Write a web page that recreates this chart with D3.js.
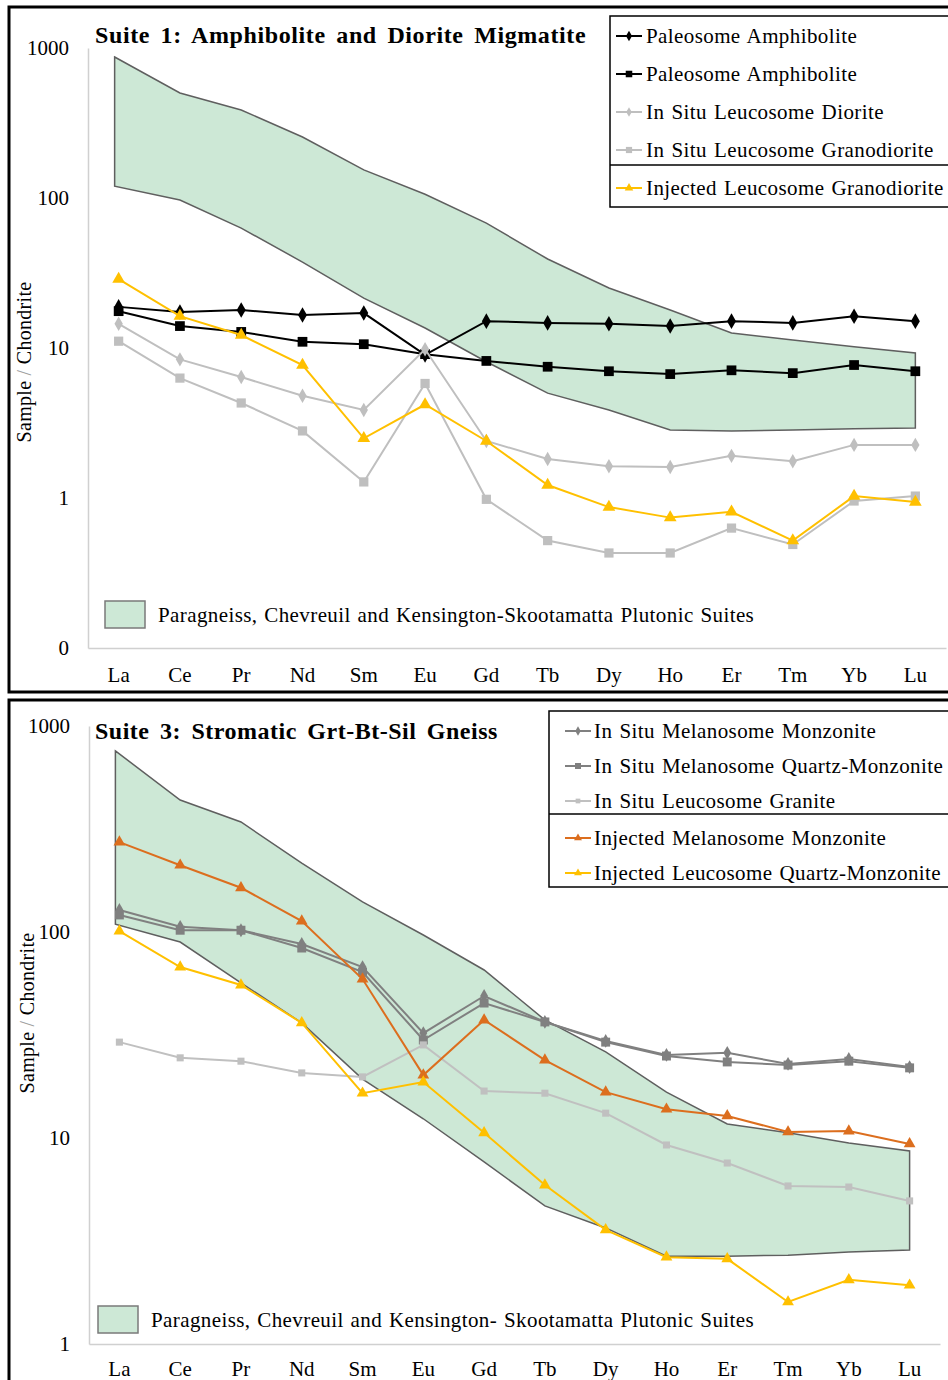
<!DOCTYPE html>
<html>
<head>
<meta charset="utf-8">
<script src="https://cdn.jsdelivr.net/npm/d3@7"></script>
<style>
  body { margin: 0; background: #fff; }
  svg text { font-family: "Liberation Serif", "Times New Roman", serif; fill: #000; }
</style>
</head>
<body>
<svg id="chart" width="948" height="1380"></svg>
<script>
// Rare earth elements on the x axis
const elements = ['La', 'Ce', 'Pr', 'Nd', 'Sm', 'Eu', 'Gd', 'Tb', 'Dy', 'Ho', 'Er', 'Tm', 'Yb', 'Lu'];

// Suite 1 samples (chondrite-normalised)
const paleosomeAmphiboliteA = [18.8, 17.4, 17.9, 16.6, 17.1, 9.0, 15.1, 14.7, 14.5, 14.0, 15.1, 14.7, 16.3, 15.1];
const paleosomeAmphiboliteB = [17.6, 14.0, 12.8, 11.0, 10.6, 9.1, 8.2, 7.5, 7.0, 6.7, 7.1, 6.8, 7.7, 7.0];
const inSituLeucosomeDiorite = [14.5, 8.4, 6.4, 4.8, 3.86, 9.8, 2.4, 1.82, 1.63, 1.61, 1.91, 1.76, 2.26, 2.26];
const inSituLeucosomeGranodiorite = [11.1, 6.3, 4.3, 2.8, 1.28, 5.8, 0.98, 0.52, 0.43, 0.43, 0.63, 0.49, 0.955, 1.03];
const injectedLeucosomeGranodiorite = [28.8, 16.3, 12.2, 7.7, 2.5, 4.2, 2.4, 1.22, 0.87, 0.74, 0.81, 0.52, 1.03, 0.94];
const suite1EnvelopeUpper = [871, 501, 386, 255, 154, 106, 68, 39.2, 25.1, 17.9, 12.6, 11.3, 10.2, 9.26];
const suite1EnvelopeLower = [120, 97, 63, 37.4, 21.5, 13.6, 8.1, 5.0, 3.86, 2.84, 2.8, 2.84, 2.9, 2.93];
const suite1Ticks = [1000, 100, 10, 1, 0.1];
const suite1TickLabels = ['1000', '100', '10', '1', '0'];

// Suite 3 samples
const inSituMelanosomeMonzonite = [128, 106, 102, 87.5, 67.6, 32.3, 48.9, 36.6, 29.6, 25.3, 25.9, 22.9, 24.2, 22.1];
const inSituMelanosomeQtzMonzonite = [121, 102, 102, 83.6, 63.9, 29.9, 45.2, 36.6, 29.2, 25.0, 23.4, 22.6, 23.6, 21.9];
const inSituLeucosomeGranite = [29.2, 24.5, 23.6, 20.7, 19.8, 28.3, 16.9, 16.5, 13.2, 9.25, 7.56, 5.85, 5.78, 4.95];
const injectedMelanosomeMonzonite = [273, 211, 164, 113, 59.1, 20.2, 37.4, 23.9, 16.7, 13.8, 12.8, 10.7, 10.8, 9.36];
const injectedLeucosomeQtzMonzonite = [101, 67.6, 55.3, 36.2, 16.5, 18.7, 10.6, 5.91, 3.58, 2.64, 2.59, 1.6, 2.05, 1.93];
const suite3EnvelopeUpper = [757, 437, 342, 216, 140, 96.7, 65.4, 37.4, 26.2, 16.7, 11.7, 10.6, 9.46, 8.65];
const suite3EnvelopeLower = [109, 89.4, 56.6, 36.2, 19.3, 12.4, 7.65, 4.68, 3.66, 2.67, 2.67, 2.7, 2.8, 2.86];
const suite3Ticks = [1000, 100, 10, 1];
const suite3TickLabels = ['1000', '100', '10', '1'];

const envelopeLabel1 = 'Paragneiss, Chevreuil and Kensington-Skootamatta Plutonic Suites';
const envelopeLabel3 = 'Paragneiss, Chevreuil and Kensington- Skootamatta Plutonic Suites';

const svg = d3.select('#chart');

const symbols = { diamond: d3.symbolDiamond, square: d3.symbolSquare, triangle: d3.symbolTriangle };

function drawPanel(cfg) {
  const g = svg.append('g');

  // panel frame
  g.append('rect')
    .attr('x', cfg.frame[0]).attr('y', cfg.frame[1])
    .attr('width', cfg.frame[2]).attr('height', cfg.frame[3])
    .attr('fill', 'none').attr('stroke', '#000').attr('stroke-width', 3);

  const x = d3.scaleBand().domain(elements).range([cfg.left, cfg.right]);
  const y = d3.scaleLog().domain(cfg.yDomain).range([cfg.bottom, cfg.top]);
  const cx = d => x(d) + x.bandwidth() / 2;

  // envelope (outer vertices pulled a little inside the first band, as in the original drawing)
  const env = elements.map((e, i) => ({ e, hi: cfg.envUpper[i], lo: cfg.envLower[i] }));
  const ex = (d, i) => cx(d.e) - (i === 0 ? 4 : 0);
  const area = d3.area().x(ex).y0(d => y(d.lo)).y1(d => y(d.hi));
  g.append('path')
    .datum(env)
    .attr('d', d => area(d) + 'Z')
    .attr('fill', '#cde8d6')
    .attr('stroke', '#5f5f5f')
    .attr('stroke-width', 1.5);

  // axes
  const yAxis = d3.axisLeft(y)
    .tickValues(cfg.ticks)
    .tickFormat((d, i) => cfg.tickLabels[i])
    .tickSize(0).tickPadding(19);
  const ya = g.append('g').attr('transform', `translate(${cfg.left},0)`).call(yAxis);
  ya.select('.domain').attr('stroke', '#d0d0d0').attr('stroke-width', 1.5);
  ya.selectAll('text').attr('font-size', 21).attr('font-family', 'Liberation Serif');

  const xAxis = d3.axisBottom(x).tickSize(0).tickPadding(cfg.xPad).tickSizeOuter(0);
  const xa = g.append('g').attr('transform', `translate(0,${cfg.bottom})`).call(xAxis);
  xa.select('.domain').attr('stroke', '#d0d0d0').attr('stroke-width', 1.5);
  xa.selectAll('text').attr('font-size', 21).attr('font-family', 'Liberation Serif');

  // y title
  const yt = g.append('text')
    .attr('transform', `translate(${cfg.yTitleX},${cfg.yTitleY}) rotate(-90)`)
    .attr('text-anchor', 'middle')
    .attr('font-size', 20)
    .attr('letter-spacing', 0.3);
  yt.append('tspan').text('Sample ');
  yt.append('tspan').style('fill', '#a0a0a0').text('/');
  yt.append('tspan').text(' Chondrite');

  // series
  const line = d3.line().x((d, i) => cx(elements[i])).y(d => y(d));
  cfg.series.forEach(s => {
    g.append('path')
      .datum(s.values)
      .attr('d', line)
      .attr('fill', 'none')
      .attr('stroke', s.color)
      .attr('stroke-width', s.width || 2);
    g.selectAll(null)
      .data(s.values)
      .enter()
      .append('path')
      .attr('transform', (d, i) => `translate(${cx(elements[i])},${y(d)})`)
      .attr('d', d3.symbol().type(symbols[s.shape]).size(s.size))
      .attr('fill', s.color);
  });

  // title
  g.append('text')
    .attr('x', 95).attr('y', cfg.titleY)
    .attr('font-size', 24).attr('font-weight', 'bold')
    .attr('letter-spacing', cfg.titleSpacing).attr('word-spacing', 4)
    .text(cfg.title);

  // legend box
  const lg = cfg.legend;
  g.append('rect')
    .attr('x', lg.x).attr('y', lg.y).attr('width', 420).attr('height', lg.h)
    .attr('fill', '#fff').attr('stroke', '#000').attr('stroke-width', 1.5);
  g.append('line')
    .attr('x1', lg.x).attr('x2', 948).attr('y1', lg.sep).attr('y2', lg.sep)
    .attr('stroke', '#000').attr('stroke-width', 1.5);
  cfg.series.forEach((s, i) => {
    const ly = lg.rows[i];
    g.append('line')
      .attr('x1', lg.lineX).attr('x2', lg.lineX + 26).attr('y1', ly).attr('y2', ly)
      .attr('stroke', s.color).attr('stroke-width', 2);
    g.append('path')
      .attr('transform', `translate(${lg.lineX + 13},${ly})`)
      .attr('d', d3.symbol().type(symbols[s.shape]).size(s.size * 0.45))
      .attr('fill', s.color);
    g.append('text')
      .attr('x', lg.textX).attr('y', ly).attr('dy', '0.35em')
      .attr('font-size', 21)
      .attr('letter-spacing', 0.4).attr('word-spacing', 1.5)
      .text(s.name);
  });

  // envelope legend
  g.append('rect')
    .attr('x', cfg.envKey[0]).attr('y', cfg.envKey[1]).attr('width', 40).attr('height', 27)
    .attr('fill', '#cde8d6').attr('stroke', '#7a7a7a').attr('stroke-width', 1.5);
  g.append('text')
    .attr('x', cfg.envKey[0] + 53).attr('y', cfg.envKey[1] + 14).attr('dy', '0.35em')
    .attr('font-size', 21)
    .attr('letter-spacing', 0.4).attr('word-spacing', 1.2)
    .text(cfg.envLabel);
}

drawPanel({
  frame: [9, 7, 960, 685],
  left: 88, right: 946, top: 48, bottom: 648,
  yDomain: [0.1, 1000], ticks: suite1Ticks, tickLabels: suite1TickLabels,
  xPad: 19,
  yTitleX: 31, yTitleY: 362,
  title: 'Suite 1: Amphibolite and Diorite Migmatite', titleY: 43, titleSpacing: 0.6,
  envUpper: suite1EnvelopeUpper, envLower: suite1EnvelopeLower,
  envKey: [105, 601], envLabel: envelopeLabel1,
  legend: { x: 610, y: 16, h: 191, sep: 165, lineX: 616, textX: 646, rows: [36, 74, 112, 150, 188] },
  series: [
    { name: 'Paleosome Amphibolite', values: paleosomeAmphiboliteA, color: '#000', shape: 'diamond', size: 70 },
    { name: 'Paleosome Amphibolite', values: paleosomeAmphiboliteB, color: '#000', shape: 'square', size: 95 },
    { name: 'In Situ Leucosome Diorite', values: inSituLeucosomeDiorite, color: '#bfbfbf', shape: 'diamond', size: 60 },
    { name: 'In Situ Leucosome Granodiorite', values: inSituLeucosomeGranodiorite, color: '#bfbfbf', shape: 'square', size: 85 },
    { name: 'Injected Leucosome Granodiorite', values: injectedLeucosomeGranodiorite, color: '#ffc000', shape: 'triangle', size: 70 }
  ]
});

drawPanel({
  frame: [9, 700, 960, 700],
  left: 89, right: 940, top: 726, bottom: 1344,
  yDomain: [1, 1000], ticks: suite3Ticks, tickLabels: suite3TickLabels,
  xPad: 17,
  yTitleX: 34, yTitleY: 1013,
  title: 'Suite 3: Stromatic Grt-Bt-Sil Gneiss', titleY: 739, titleSpacing: 0.5,
  envUpper: suite3EnvelopeUpper, envLower: suite3EnvelopeLower,
  envKey: [98, 1306], envLabel: envelopeLabel3,
  legend: { x: 549, y: 711, h: 176, sep: 814, lineX: 565, textX: 594, rows: [731, 766, 801, 838, 873] },
  series: [
    { name: 'In Situ Melanosome Monzonite', values: inSituMelanosomeMonzonite, color: '#808080', shape: 'diamond', size: 55 },
    { name: 'In Situ Melanosome Quartz-Monzonite', values: inSituMelanosomeQtzMonzonite, color: '#808080', shape: 'square', size: 80 },
    { name: 'In Situ Leucosome Granite', values: inSituLeucosomeGranite, color: '#c0c0c0', shape: 'square', size: 50 },
    { name: 'Injected Melanosome Monzonite', values: injectedMelanosomeMonzonite, color: '#dc6e1e', shape: 'triangle', size: 60 },
    { name: 'Injected Leucosome Quartz-Monzonite', values: injectedLeucosomeQtzMonzonite, color: '#ffc000', shape: 'triangle', size: 60 }
  ]
});
</script>
</body>
</html>
